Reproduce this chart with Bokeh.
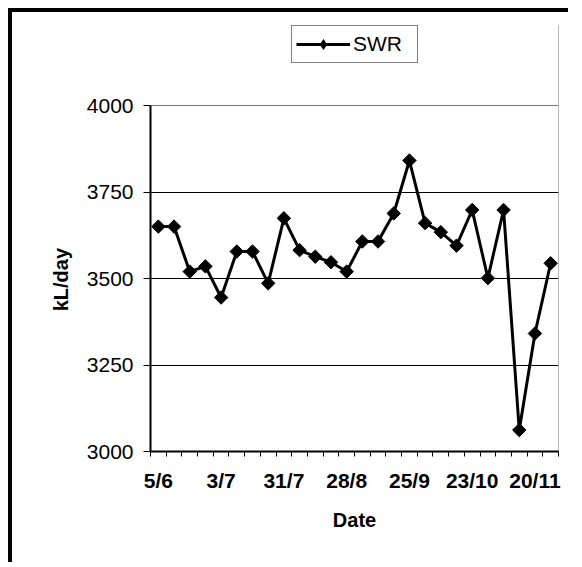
import math
from bokeh.plotting import figure
from bokeh.models import (Range1d, FixedTicker, Legend, LegendItem, ColumnDataSource, Grid)
from bokeh.embed import file_html
from bokeh.resources import INLINE

# ---- data ----
dates = ["5/6", "12/6", "19/6", "26/6", "3/7", "10/7", "17/7", "24/7", "31/7",
         "7/8", "14/8", "21/8", "28/8", "4/9", "11/9", "18/9", "25/9", "2/10",
         "9/10", "16/10", "23/10", "30/10", "6/11", "13/11", "20/11", "27/11"]
swr = [3650, 3650, 3520, 3535, 3445, 3578, 3578, 3486, 3674, 3582, 3563, 3547,
       3520, 3607, 3607, 3688, 3841, 3660, 3634, 3595, 3698, 3501, 3698, 3062,
       3341, 3544]
label_step = 4
y_ticks = [3000, 3250, 3500, 3750, 4000]
grid_values = [3250, 3500, 3750]
series_name = "SWR"
x_title = "Date"
y_title = "kL/day"

FONT = "Liberation Sans"

# ---- layout (pixels) ----
W, H = 560, 554
LEFT, RIGHT, TOP, BOTTOM = 138, 14, 12, 115
PLOT_PX = 346          # pixel height of the 3000..4000 value band
frame_h = H - TOP - BOTTOM
y_lo, y_hi = y_ticks[0], y_ticks[-1]
y_end = y_lo + (y_hi - y_lo) * frame_h / PLOT_PX   # room above for the legend

n = len(dates)
xs = [i + 0.5 for i in range(n)]
src = ColumnDataSource(dict(x=xs, y=swr, date=dates))

p = figure(width=W, height=H, output_backend="svg", toolbar_location=None,
           x_range=Range1d(0, n), y_range=Range1d(y_lo, y_end),
           min_border_left=LEFT, min_border_right=RIGHT,
           min_border_top=TOP, min_border_bottom=BOTTOM,
           background_fill_color="white", border_fill_color="white")
p.styles = {"margin-top": "8px", "margin-left": "8px",
            "border-top": "4px solid black", "border-left": "4px solid black"}
p.outline_line_color = None

# grid
p.xgrid.visible = False
p.ygrid.ticker = FixedTicker(ticks=grid_values)
p.ygrid.grid_line_color = "black"
p.ygrid.grid_line_width = 1
top_edge = Grid(dimension=1, ticker=FixedTicker(ticks=[y_hi]),
                grid_line_color="#777777", grid_line_width=1)
right_edge = Grid(dimension=0, ticker=FixedTicker(ticks=[n - 0.02]),
                  bounds=(y_lo, y_hi), grid_line_color="#777777", grid_line_width=1)
p.add_layout(top_edge)
p.add_layout(right_edge)

# x axis: labels at category centres, ticks at category boundaries
p.xaxis.ticker = FixedTicker(ticks=xs[::label_step], minor_ticks=list(range(n + 1)))
p.xaxis.major_label_overrides = {xs[i]: dates[i] for i in range(0, n, label_step)}
p.xaxis.major_tick_out = 0
p.xaxis.major_tick_in = 0
p.xaxis.minor_tick_out = 5
p.xaxis.minor_tick_in = 0
p.xaxis.minor_tick_line_color = "black"
p.xaxis.axis_line_width = 2
p.xaxis.axis_line_color = "black"
p.xaxis.major_label_text_font = FONT
p.xaxis.major_label_text_font_size = "21px"
p.xaxis.major_label_text_font_style = "bold"
p.xaxis.major_label_text_color = "black"
p.xaxis.major_label_standoff = 12
p.xaxis.axis_label = x_title
p.xaxis.axis_label_text_font = FONT
p.xaxis.axis_label_text_font_size = "20px"
p.xaxis.axis_label_text_font_style = "bold"
p.xaxis.axis_label_text_color = "black"
p.xaxis.axis_label_standoff = 14

# y axis (title padded with no-break spaces so it centres on the 3000..4000 band)
p.yaxis.bounds = (y_lo, y_hi)
p.yaxis.ticker = FixedTicker(ticks=y_ticks)
p.yaxis.major_tick_out = 7
p.yaxis.major_tick_in = 0
p.yaxis.minor_tick_out = 0
p.yaxis.minor_tick_in = 0
p.yaxis.major_tick_line_color = "black"
p.yaxis.axis_line_width = 2
p.yaxis.axis_line_color = "black"
p.yaxis.major_label_text_font = FONT
p.yaxis.major_label_text_font_size = "21px"
p.yaxis.major_label_text_color = "black"
p.yaxis.major_label_standoff = 10
p.yaxis.axis_label = y_title + "\u00a0" * 15
p.yaxis.axis_label_text_font = FONT
p.yaxis.axis_label_text_font_size = "20px"
p.yaxis.axis_label_text_font_style = "bold"
p.yaxis.axis_label_text_color = "black"
p.yaxis.axis_label_standoff = 12

# series
line_r = p.line("x", "y", source=src, line_color="black", line_width=3)
mark_r = p.scatter("x", "y", source=src, marker="square", angle=math.pi / 4,
                   size=9.5, fill_color="black", line_color="black")
# zero-size diamond renderer: only used to draw the legend's diamond glyph
legend_mark = p.scatter("x", "y", source=src, marker="diamond", size=0,
                        fill_color="black", line_color="black", line_width=0)

legend = Legend(items=[LegendItem(label=series_name, renderers=[line_r, legend_mark])],
                location=(141, PLOT_PX + 42), orientation="vertical",
                glyph_width=54, glyph_height=28, label_standoff=3, label_width=60,
                padding=4, margin=0, spacing=0,
                label_text_font=FONT, label_text_font_size="21px",
                label_text_color="black",
                border_line_color="black", border_line_width=1,
                background_fill_color="white", background_fill_alpha=1)
p.add_layout(legend)

open("out.html", "w").write(file_html(p, INLINE))
